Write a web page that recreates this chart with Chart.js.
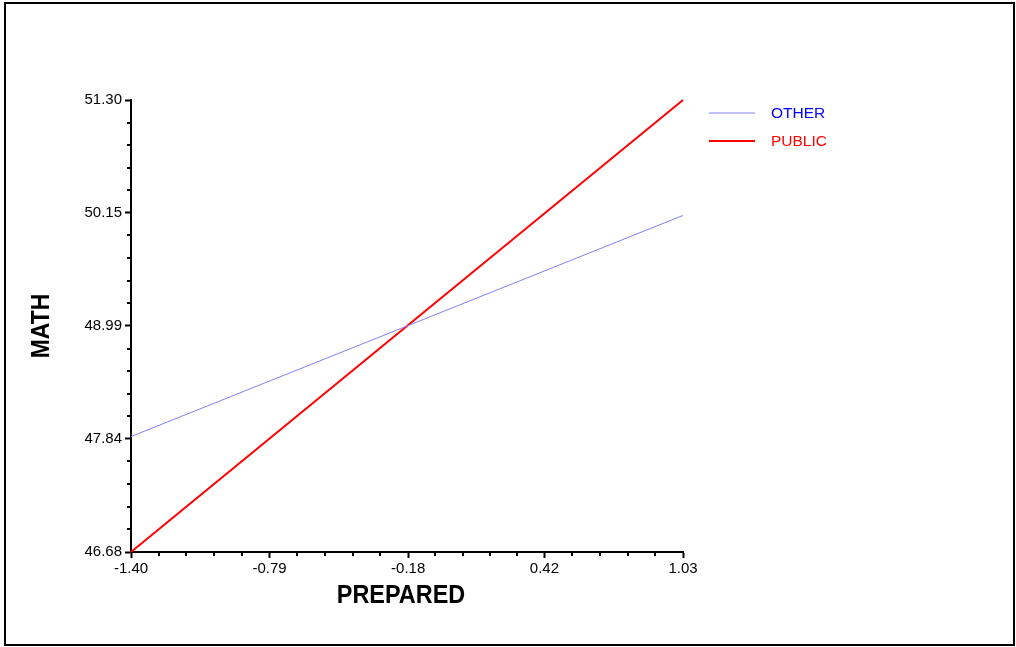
<!DOCTYPE html>
<html>
<head>
<meta charset="utf-8">
<title>MATH vs PREPARED</title>
<script src="https://cdn.jsdelivr.net/npm/chart.js@4/dist/chart.umd.min.js"></script>
<style>
    body { margin: 0; background: #fff; }
    #mycanvas { display: block; }
</style>
</head>
<body>
<canvas id="mycanvas" width="1016" height="647"></canvas>
<script>
// values
var seriesNames = ["OTHER", "PUBLIC"];
var xValues = [-1.40, 1.03];
var otherValues = [47.86, 50.12];
var publicValues = [46.68, 51.30];

var xTicks = [-1.40, -0.79, -0.18, 0.42, 1.03];
var xTickLabels = ["-1.40", "-0.79", "-0.18", "0.42", "1.03"];
var yTicks = [46.68, 47.84, 48.99, 50.15, 51.30];
var yTickLabels = ["46.68", "47.84", "48.99", "50.15", "51.30"];

var xTitle = "PREPARED";
var yTitle = "MATH";

function points(ys) {
    var pts = [];
    for (var i in xValues) {
        pts.push({x: xValues[i], y: ys[i]});
    }
    return pts;
}

// outer frame
var framePlugin = {
    id: 'frame',
    beforeDraw: function(chart) {
        var ctx = chart.ctx;
        ctx.save();
        ctx.fillStyle = '#fff';
        ctx.fillRect(0, 0, chart.width, chart.height);
        ctx.strokeStyle = '#000';
        ctx.lineWidth = 2;
        ctx.strokeRect(5, 3, 1009, 642);
        ctx.restore();
    }
};

// 4 minor ticks between each pair of major ticks
var minorTicksPlugin = {
    id: 'minorTicks',
    afterDraw: function(chart) {
        var ctx = chart.ctx;
        var xs = chart.scales.x;
        var ys = chart.scales.y;
        var area = chart.chartArea;
        ctx.save();
        ctx.strokeStyle = '#000';
        ctx.lineWidth = 2;
        ctx.beginPath();
        for (var i = 0; i < xTicks.length - 1; i++) {
            for (var k = 1; k < 5; k++) {
                var v = xTicks[i] + (xTicks[i + 1] - xTicks[i]) * k / 5;
                var px = Math.round(xs.getPixelForValue(v));
                ctx.moveTo(px, area.bottom);
                ctx.lineTo(px, area.bottom + 4);
            }
        }
        for (var j = 0; j < yTicks.length - 1; j++) {
            for (var m = 1; m < 5; m++) {
                var w = yTicks[j] + (yTicks[j + 1] - yTicks[j]) * m / 5;
                var py = Math.round(ys.getPixelForValue(w));
                ctx.moveTo(area.left, py);
                ctx.lineTo(area.left - 4, py);
            }
        }
        ctx.stroke();
        ctx.restore();
    }
};

// axis titles and legend, drawn to sit where the original has them
var labelsPlugin = {
    id: 'labels',
    afterDraw: function(chart) {
        var ctx = chart.ctx;
        ctx.save();
        ctx.fillStyle = '#000';
        ctx.font = 'bold 26px "Liberation Sans", Arial, sans-serif';
        ctx.textAlign = 'center';
        ctx.textBaseline = 'middle';

        ctx.save();
        ctx.translate(401, 596);
        ctx.scale(0.9, 1);
        ctx.fillText(xTitle, 0, 0);
        ctx.restore();

        ctx.save();
        ctx.translate(42, 326);
        ctx.rotate(-Math.PI / 2);
        ctx.scale(0.88, 1);
        ctx.fillText(yTitle, 0, 0);
        ctx.restore();

        var textColors = ['#0000ff', '#ff0000'];
        ctx.font = '15.5px "Liberation Sans", Arial, sans-serif';
        ctx.textAlign = 'left';
        chart.data.datasets.forEach(function(ds, i) {
            var y = 113 + i * 28;
            ctx.strokeStyle = ds.borderColor;
            ctx.lineWidth = ds.borderWidth;
            ctx.beginPath();
            ctx.moveTo(709, y);
            ctx.lineTo(755, y);
            ctx.stroke();
            ctx.fillStyle = textColors[i];
            ctx.fillText(ds.label, 771, y + 1);
        });
        ctx.restore();
    }
};

var chartdata = {
    datasets: [
        {
            label: seriesNames[0],
            data: points(otherValues),
            borderColor: 'rgb(130, 130, 255)',
            borderWidth: 1,
            pointRadius: 0,
            showLine: true,
            clip: false
        },
        {
            label: seriesNames[1],
            data: points(publicValues),
            borderColor: 'rgb(255, 0, 0)',
            borderWidth: 2,
            pointRadius: 0,
            showLine: true,
            clip: false
        }
    ]
};

var ctx = document.getElementById('mycanvas');

var lineGraph = new Chart(ctx, {
    type: 'scatter',
    data: chartdata,
    plugins: [framePlugin, minorTicksPlugin, labelsPlugin],
    options: {
        responsive: false,
        animation: false,
        devicePixelRatio: 1,
        layout: {
            padding: {top: 100, right: 333, bottom: 0, left: 0}
        },
        plugins: {
            legend: {display: false},
            tooltip: {enabled: false}
        },
        scales: {
            x: {
                type: 'linear',
                min: -1.40,
                max: 1.03,
                afterFit: function(scale) { scale.height = 95; },
                afterBuildTicks: function(scale) {
                    scale.ticks = xTicks.map(function(v) { return {value: v}; });
                },
                ticks: {
                    autoSkip: false,
                    maxRotation: 0,
                    padding: 2,
                    color: '#000',
                    font: {family: '"Liberation Sans", Arial, sans-serif', size: 15},
                    callback: function(value, index) { return xTickLabels[index]; }
                },
                grid: {
                    drawOnChartArea: false,
                    drawTicks: true,
                    tickLength: 6,
                    tickWidth: 2,
                    tickColor: '#000'
                },
                border: {display: true, color: '#000', width: 2}
            },
            y: {
                type: 'linear',
                min: 46.68,
                max: 51.30,
                afterFit: function(scale) { scale.width = 131; },
                afterBuildTicks: function(scale) {
                    scale.ticks = yTicks.map(function(v) { return {value: v}; });
                },
                ticks: {
                    autoSkip: false,
                    padding: 3,
                    color: '#000',
                    font: {family: '"Liberation Sans", Arial, sans-serif', size: 15},
                    callback: function(value, index) { return yTickLabels[index]; }
                },
                grid: {
                    drawOnChartArea: false,
                    drawTicks: true,
                    tickLength: 6,
                    tickWidth: 2,
                    tickColor: '#000'
                },
                border: {display: true, color: '#000', width: 2}
            }
        }
    }
});
</script>
</body>
</html>
